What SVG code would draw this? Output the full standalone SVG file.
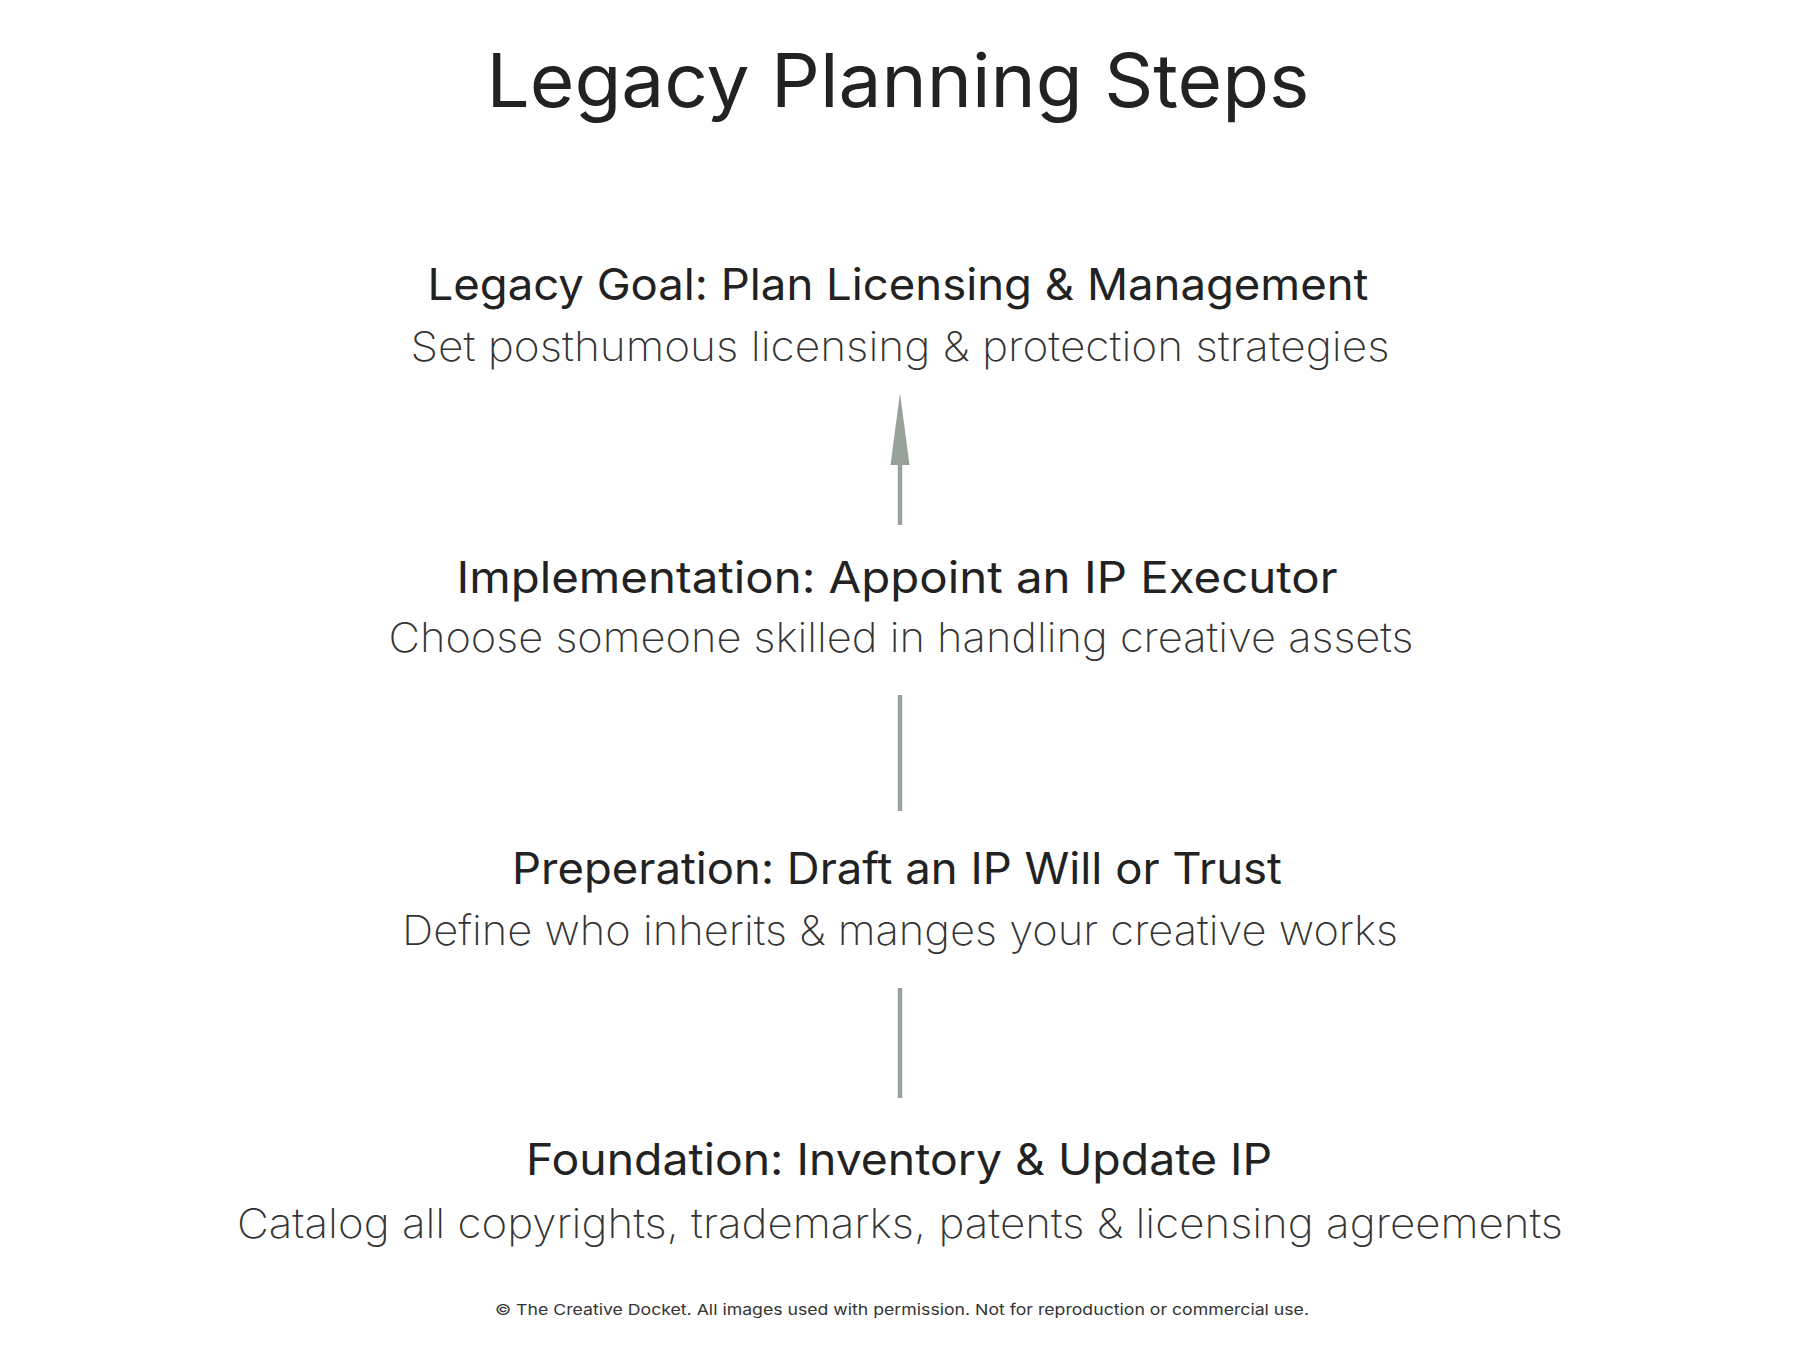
<svg xmlns="http://www.w3.org/2000/svg" width="1800" height="1350" viewBox="0 0 1800 1350">
  <defs>
    <style>
      text { font-family: Inter, "Open Sans", "Liberation Sans", sans-serif; text-anchor: middle; }
      .title { font-size: 74px; font-weight: 400; fill: #222222; }
      .head { font-size: 44px; font-weight: 400; fill: #222222; }
      .sub { font-size: 41px; font-weight: 200; fill: #333333; }
      .foot { font-size: 15px; font-weight: 400; fill: #333333; }
      .conn { stroke: #97a398; stroke-width: 4.5; fill: none; }
    </style>
    <marker id="arrowHead" markerUnits="userSpaceOnUse" viewBox="0 -10 72 20" refX="0" refY="0" markerWidth="72" markerHeight="20" orient="auto">
      <path d="M0,-9.5 L72,0 L0,9.5 Z" fill="#97a398"/>
    </marker>
  </defs>
  <rect x="0" y="0" width="1800" height="1350" fill="#ffffff"/>

  <text id="title" class="title" x="898" y="107" textLength="823" lengthAdjust="spacingAndGlyphs">Legacy Planning Steps</text>

  <g id="connectors">
    <line class="conn" x1="900" y1="525" x2="900" y2="465" marker-end="url(#arrowHead)"/>
    <line class="conn" x1="900" y1="695" x2="900" y2="811"/>
    <line class="conn" x1="900" y1="988" x2="900" y2="1098"/>
  </g>

  <g id="node-goal">
    <text class="head" x="898" y="300" textLength="941" lengthAdjust="spacingAndGlyphs">Legacy Goal: Plan Licensing &amp; Management</text>
    <text class="sub" x="900" y="361" textLength="979" lengthAdjust="spacingAndGlyphs">Set posthumous licensing &amp; protection strategies</text>
  </g>

  <g id="node-implementation">
    <text class="head" x="897" y="593" textLength="881" lengthAdjust="spacingAndGlyphs">Implementation: Appoint an IP Executor</text>
    <text class="sub" x="901" y="652" textLength="1025" lengthAdjust="spacingAndGlyphs">Choose someone skilled in handling creative assets</text>
  </g>

  <g id="node-preparation">
    <text class="head" x="897" y="884" textLength="770" lengthAdjust="spacingAndGlyphs">Preperation: Draft an IP Will or Trust</text>
    <text class="sub" x="900" y="945" textLength="996" lengthAdjust="spacingAndGlyphs">Define who inherits &amp; manges your creative works</text>
  </g>

  <g id="node-foundation">
    <text class="head" x="899" y="1175" textLength="746" lengthAdjust="spacingAndGlyphs">Foundation: Inventory &amp; Update IP</text>
    <text class="sub" x="900" y="1238" textLength="1326" lengthAdjust="spacingAndGlyphs">Catalog all copyrights, trademarks, patents &amp; licensing agreements</text>
  </g>

  <text id="footer" class="foot" x="902" y="1315" textLength="814" lengthAdjust="spacingAndGlyphs">© The Creative Docket. All images used with permission. Not for reproduction or commercial use.</text>
</svg>
